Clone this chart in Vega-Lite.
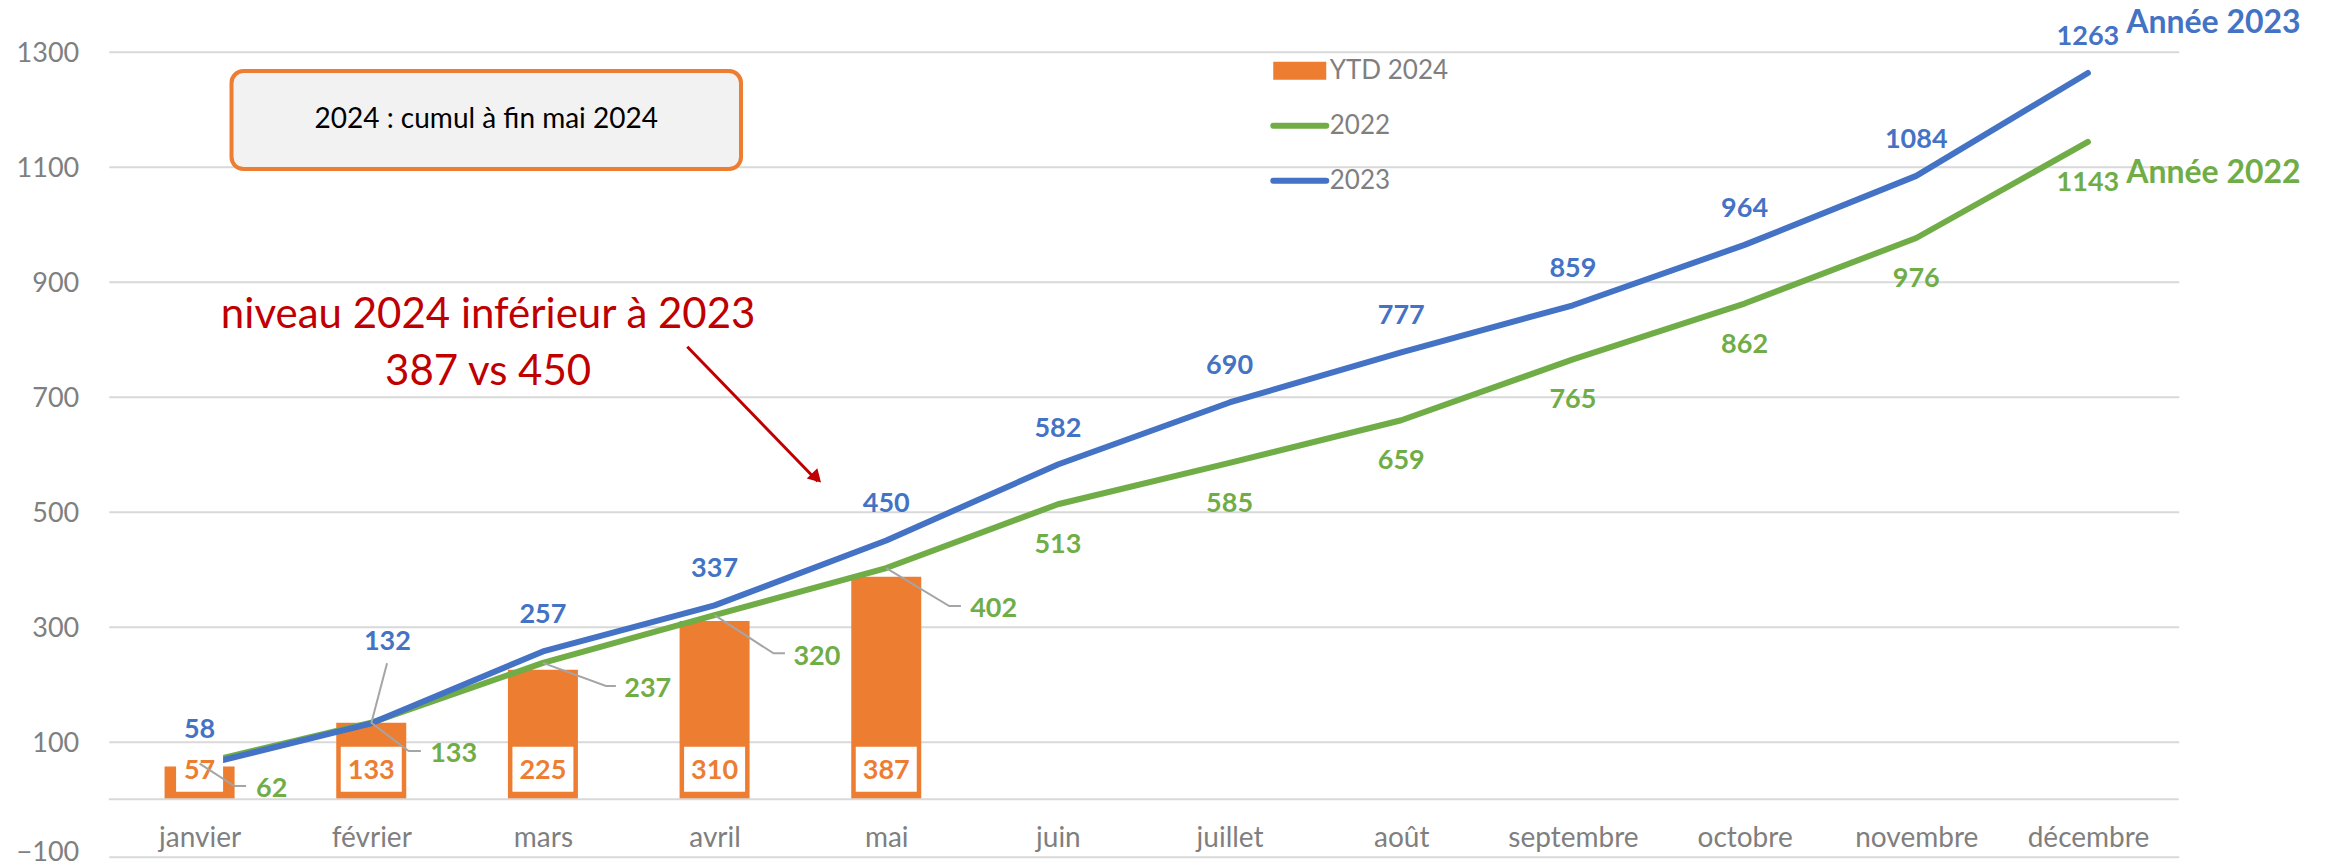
{
  "$schema": "https://vega.github.io/schema/vega-lite/v6.json",
  "width": 2070,
  "height": 805,
  "autosize": "none",
  "padding": {"left": 108.75, "top": 51.7, "right": 147.25, "bottom": 10.3},
  "background": "white",
  "config": {"font": "Lato", "view": {"stroke": null}},
  "datasets": {
    "main": [
      {"m": 1, "mois": "janvier", "serie": "YTD 2024", "valeur": 57},
      {"m": 2, "mois": "février", "serie": "YTD 2024", "valeur": 133},
      {"m": 3, "mois": "mars", "serie": "YTD 2024", "valeur": 225},
      {"m": 4, "mois": "avril", "serie": "YTD 2024", "valeur": 310},
      {"m": 5, "mois": "mai", "serie": "YTD 2024", "valeur": 387},
      {"m": 1, "mois": "janvier", "serie": "2022", "valeur": 62},
      {"m": 2, "mois": "février", "serie": "2022", "valeur": 133},
      {"m": 3, "mois": "mars", "serie": "2022", "valeur": 237},
      {"m": 4, "mois": "avril", "serie": "2022", "valeur": 320},
      {"m": 5, "mois": "mai", "serie": "2022", "valeur": 402},
      {"m": 6, "mois": "juin", "serie": "2022", "valeur": 513},
      {"m": 7, "mois": "juillet", "serie": "2022", "valeur": 585},
      {"m": 8, "mois": "août", "serie": "2022", "valeur": 659},
      {"m": 9, "mois": "septembre", "serie": "2022", "valeur": 765},
      {"m": 10, "mois": "octobre", "serie": "2022", "valeur": 862},
      {"m": 11, "mois": "novembre", "serie": "2022", "valeur": 976},
      {"m": 12, "mois": "décembre", "serie": "2022", "valeur": 1143},
      {"m": 1, "mois": "janvier", "serie": "2023", "valeur": 58},
      {"m": 2, "mois": "février", "serie": "2023", "valeur": 132},
      {"m": 3, "mois": "mars", "serie": "2023", "valeur": 257},
      {"m": 4, "mois": "avril", "serie": "2023", "valeur": 337},
      {"m": 5, "mois": "mai", "serie": "2023", "valeur": 450},
      {"m": 6, "mois": "juin", "serie": "2023", "valeur": 582},
      {"m": 7, "mois": "juillet", "serie": "2023", "valeur": 690},
      {"m": 8, "mois": "août", "serie": "2023", "valeur": 777},
      {"m": 9, "mois": "septembre", "serie": "2023", "valeur": 859},
      {"m": 10, "mois": "octobre", "serie": "2023", "valeur": 964},
      {"m": 11, "mois": "novembre", "serie": "2023", "valeur": 1084},
      {"m": 12, "mois": "décembre", "serie": "2023", "valeur": 1263}
    ],
    "leaders": [
      {"id": "b132", "k": 0, "m": 2, "v": 132},
      {"id": "b132", "k": 1, "m": 2.092, "v": 236.3},
      {"id": "g62", "k": 0, "m": 1, "v": 62},
      {"id": "g62", "k": 1, "m": 1.203, "v": 23},
      {"id": "g62", "k": 2, "m": 1.271, "v": 23},
      {"id": "g133", "k": 0, "m": 2, "v": 133},
      {"id": "g133", "k": 1, "m": 2.218, "v": 83.8},
      {"id": "g133", "k": 2, "m": 2.289, "v": 83.8},
      {"id": "g237", "k": 0, "m": 3, "v": 237},
      {"id": "g237", "k": 1, "m": 3.367, "v": 196.9},
      {"id": "g237", "k": 2, "m": 3.425, "v": 196.9},
      {"id": "g320", "k": 0, "m": 4, "v": 320},
      {"id": "g320", "k": 1, "m": 4.343, "v": 253.7},
      {"id": "g320", "k": 2, "m": 4.41, "v": 253.7},
      {"id": "g402", "k": 0, "m": 5, "v": 402},
      {"id": "g402", "k": 1, "m": 5.367, "v": 336},
      {"id": "g402", "k": 2, "m": 5.435, "v": 336}
    ],
    "etiq": [
      {"serie": "2023", "texte": "132", "m": 2.094, "v": 259.5},
      {"serie": "2022", "texte": "62", "m": 1.329, "v": 4},
      {"serie": "2022", "texte": "133", "m": 2.343, "v": 65.2},
      {"serie": "2022", "texte": "237", "m": 3.474, "v": 178.3},
      {"serie": "2022", "texte": "320", "m": 4.459, "v": 233.4},
      {"serie": "2022", "texte": "402", "m": 5.489, "v": 317.4}
    ],
    "one": [{}]
  },
  "layer": [
    {
      "data": {"name": "main"},
      "transform": [{"filter": "datum.serie === 'YTD 2024'"}],
      "mark": {"type": "bar", "width": 70},
      "encoding": {
        "x": {
          "field": "m", "type": "quantitative",
          "scale": {"domain": [0.5, 12.5], "nice": false, "zero": false},
          "axis": {
            "values": [1, 2, 3, 4, 5, 6, 7, 8, 9, 10, 11, 12],
            "labelExpr": "['janvier','février','mars','avril','mai','juin','juillet','août','septembre','octobre','novembre','décembre'][datum.value - 1]",
            "grid": false, "domain": false, "ticks": false, "tickSize": 0,
            "labelFontSize": 28, "labelColor": "#7F7F7F",
            "labelBaseline": "alphabetic", "labelPadding": -10,
            "labelFlush": false, "labelOverlap": false, "title": null
          }
        },
        "y": {
          "field": "valeur", "type": "quantitative",
          "scale": {"domain": [-100, 1300], "nice": false, "zero": false},
          "axis": {
            "values": [-100, 100, 300, 500, 700, 900, 1100, 1300],
            "format": "d",
            "grid": true, "gridColor": "#D9D9D9", "gridWidth": 2,
            "domain": false, "ticks": false, "tickSize": 0,
            "labelFontSize": 27, "labelColor": "#7F7F7F", "labelPadding": 30,
            "labelBaseline": "alphabetic",
            "labelOffset": {"condition": {"test": "datum.value === -100", "value": 3.5}, "value": 9.5},
            "title": null
          }
        },
        "y2": {"datum": 0},
        "color": {
          "field": "serie", "type": "nominal",
          "scale": {"domain": ["YTD 2024", "2022", "2023"], "range": ["#ED7D31", "#70AD47", "#4472C4"]},
          "legend": {
            "title": null, "orient": "none", "legendX": 1178, "legendY": 6,
            "padding": 0, "offset": 0, "rowPadding": 29,
            "labelFontSize": 26, "labelColor": "#7F7F7F", "labelOffset": 17,
            "symbolSize": 2809, "symbolStrokeWidth": 0,
            "encode": {
              "symbols": {
                "update": {
                  "shape": {"signal": "datum.value === 'YTD 2024' ? 'M-1,-0.34H1V0.34H-1Z' : 'M-1,0H1'"},
                  "fill": {"signal": "datum.value === 'YTD 2024' ? '#ED7D31' : 'transparent'"},
                  "stroke": {"signal": "datum.value === '2022' ? '#70AD47' : (datum.value === '2023' ? '#4472C4' : 'transparent')"},
                  "strokeWidth": {"signal": "datum.value === 'YTD 2024' ? 0 : 6"},
                  "strokeCap": {"value": "round"},
                  "size": {"value": 2809},
                  "opacity": {"value": 1}
                }
              }
            }
          }
        }
      }
    },
    {
      "data": {"name": "one"},
      "mark": {"type": "rule", "color": "#D9D9D9", "strokeWidth": 2},
      "encoding": {"y": {"datum": 0}}
    },
    {
      "data": {"name": "main"},
      "transform": [{"filter": "datum.serie === '2022'"}],
      "mark": {"type": "line", "strokeWidth": 6, "strokeCap": "round", "strokeJoin": "round"},
      "encoding": {
        "x": {"field": "m", "type": "quantitative"},
        "y": {"field": "valeur", "type": "quantitative"},
        "color": {"field": "serie", "type": "nominal"}
      }
    },
    {
      "data": {"name": "main"},
      "transform": [{"filter": "datum.serie === '2023'"}],
      "mark": {"type": "line", "strokeWidth": 6, "strokeCap": "round", "strokeJoin": "round"},
      "encoding": {
        "x": {"field": "m", "type": "quantitative"},
        "y": {"field": "valeur", "type": "quantitative"},
        "color": {"field": "serie", "type": "nominal"}
      }
    },
    {
      "data": {"name": "main"},
      "transform": [{"filter": "datum.serie === 'YTD 2024' && datum.valeur >= 100"}],
      "mark": {"type": "bar", "width": 61, "color": "white"},
      "encoding": {
        "x": {"field": "m", "type": "quantitative"},
        "y": {"datum": 13},
        "y2": {"datum": 91.3}
      }
    },
    {
      "data": {"name": "main"},
      "transform": [{"filter": "datum.serie === 'YTD 2024' && datum.valeur < 100"}],
      "mark": {"type": "bar", "width": 47, "color": "white"},
      "encoding": {
        "x": {"field": "m", "type": "quantitative"},
        "y": {"datum": 13},
        "y2": {"datum": 91.3}
      }
    },
    {
      "data": {"name": "main"},
      "transform": [{"filter": "datum.serie === 'YTD 2024'"}],
      "mark": {"type": "text", "color": "#ED7D31", "fontWeight": "bold", "fontSize": 27, "baseline": "alphabetic", "align": "center"},
      "encoding": {
        "x": {"field": "m", "type": "quantitative"},
        "y": {"datum": 34.6},
        "text": {"field": "valeur", "type": "quantitative"}
      }
    },
    {
      "data": {"name": "leaders"},
      "mark": {"type": "line", "color": "#A5A5A5", "strokeWidth": 2},
      "encoding": {
        "x": {"field": "m", "type": "quantitative"},
        "y": {"field": "v", "type": "quantitative"},
        "detail": {"field": "id", "type": "nominal"},
        "order": {"field": "k", "type": "quantitative"}
      }
    },
    {
      "data": {"name": "main"},
      "transform": [{"filter": "datum.serie === '2023' && datum.m !== 2"}],
      "mark": {"type": "text", "color": "#4472C4", "fontWeight": "bold", "fontSize": 27, "baseline": "alphabetic", "align": "center", "dy": -28},
      "encoding": {
        "x": {"field": "m", "type": "quantitative"},
        "y": {"field": "valeur", "type": "quantitative"},
        "text": {"field": "valeur", "type": "quantitative"}
      }
    },
    {
      "data": {"name": "main"},
      "transform": [{"filter": "datum.serie === '2022' && datum.m >= 6"}],
      "mark": {"type": "text", "color": "#70AD47", "fontWeight": "bold", "fontSize": 27, "baseline": "alphabetic", "align": "center", "dy": 49},
      "encoding": {
        "x": {"field": "m", "type": "quantitative"},
        "y": {"field": "valeur", "type": "quantitative"},
        "text": {"field": "valeur", "type": "quantitative"}
      }
    },
    {
      "data": {"name": "etiq"},
      "transform": [{"filter": "datum.serie === '2023'"}],
      "mark": {"type": "text", "color": "#4472C4", "fontWeight": "bold", "fontSize": 27, "baseline": "alphabetic", "align": "center"},
      "encoding": {
        "x": {"field": "m", "type": "quantitative"},
        "y": {"field": "v", "type": "quantitative"},
        "text": {"field": "texte", "type": "nominal"}
      }
    },
    {
      "data": {"name": "etiq"},
      "transform": [{"filter": "datum.serie === '2022'"}],
      "mark": {"type": "text", "color": "#70AD47", "fontWeight": "bold", "fontSize": 27, "baseline": "alphabetic", "align": "left"},
      "encoding": {
        "x": {"field": "m", "type": "quantitative"},
        "y": {"field": "v", "type": "quantitative"},
        "text": {"field": "texte", "type": "nominal"}
      }
    },
    {
      "data": {"name": "one"},
      "mark": {"type": "rect", "fill": "#F2F2F2", "stroke": "#ED7D31", "strokeWidth": 4, "cornerRadius": 12},
      "encoding": {
        "x": {"datum": 1.186}, "x2": {"datum": 4.154},
        "y": {"datum": 1266.4}, "y2": {"datum": 1095.9}
      }
    },
    {
      "data": {"name": "one"},
      "mark": {"type": "text", "text": "2024 : cumul à fin mai 2024", "fontSize": 28, "color": "#000000", "align": "center", "baseline": "middle"},
      "encoding": {"x": {"datum": 2.67}, "y": {"datum": 1181.2}}
    },
    {
      "data": {"name": "one"},
      "mark": {"type": "text", "text": "niveau 2024 inférieur à 2023", "fontSize": 42, "color": "#C00000", "align": "center", "baseline": "alphabetic"},
      "encoding": {"x": {"datum": 2.681}, "y": {"datum": 819.5}}
    },
    {
      "data": {"name": "one"},
      "mark": {"type": "text", "text": "387 vs 450", "fontSize": 42, "color": "#C00000", "align": "center", "baseline": "alphabetic"},
      "encoding": {"x": {"datum": 2.681}, "y": {"datum": 720.3}}
    },
    {
      "data": {"name": "one"},
      "mark": {"type": "rule", "color": "#C00000", "strokeWidth": 3},
      "encoding": {
        "x": {"datum": 3.841}, "y": {"datum": 787},
        "x2": {"datum": 4.6}, "y2": {"datum": 553}
      }
    },
    {
      "data": {"name": "one"},
      "mark": {"type": "point", "shape": "triangle-up", "filled": true, "color": "#C00000", "opacity": 1, "size": 220, "angle": 135.5},
      "encoding": {"x": {"datum": 4.594}, "y": {"datum": 558.6}}
    },
    {
      "data": {"name": "one"},
      "mark": {"type": "text", "text": "Année 2023", "fontSize": 32, "fontWeight": "bold", "color": "#4472C4", "align": "left", "baseline": "alphabetic"},
      "encoding": {"x": {"datum": 12.223}, "y": {"datum": 1332.5}}
    },
    {
      "data": {"name": "one"},
      "mark": {"type": "text", "text": "Année 2022", "fontSize": 32, "fontWeight": "bold", "color": "#70AD47", "align": "left", "baseline": "alphabetic"},
      "encoding": {"x": {"datum": 12.223}, "y": {"datum": 1071.7}}
    }
  ]
}
